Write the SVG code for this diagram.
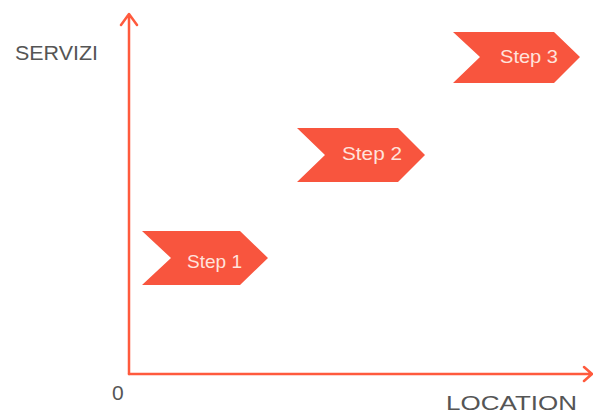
<svg xmlns="http://www.w3.org/2000/svg" width="593" height="414" viewBox="0 0 593 414">
<style>
.axis{fill:none;stroke:#ff5a3d;stroke-width:2.5;stroke-linecap:round;stroke-linejoin:round}
.chev{fill:#f8553e}
.st{font-family:"Liberation Sans",Arial,sans-serif;font-size:19px;fill:#ffe3dc}
.lbl{font-family:"Liberation Sans",Arial,sans-serif;font-size:21px;fill:#555}
</style>
<rect width="593" height="414" fill="#fff"/>
<g id="connectors">
<path class="axis" d="M129,374 V15 M121,25 L129,14 L137,25"/>
<path class="axis" d="M129,374 H591 M584,367 L592,374 L584,381"/>
</g>
<g id="step1">
<polygon class="chev" points="142,231 240,231 268,258 240,285 142,285 171,258"/>
<text class="st" x="187" y="268" textLength="55" lengthAdjust="spacingAndGlyphs">Step 1</text>
</g>
<g id="step2">
<polygon class="chev" points="297,128 398,128 425,155 398,182 297,182 325,155"/>
<text class="st" x="342" y="160" textLength="60" lengthAdjust="spacingAndGlyphs">Step 2</text>
</g>
<g id="step3">
<polygon class="chev" points="453,32 554,32 580,57 554,83 453,83 480,57"/>
<text class="st" x="500" y="63" textLength="58" lengthAdjust="spacingAndGlyphs">Step 3</text>
</g>
<g id="labels">
<text class="lbl" x="15" y="60" textLength="83" lengthAdjust="spacingAndGlyphs">SERVIZI</text>
<text class="lbl" x="446" y="410" textLength="131" lengthAdjust="spacingAndGlyphs">LOCATION</text>
<text class="lbl" x="112" y="400">0</text>
</g>
</svg>
